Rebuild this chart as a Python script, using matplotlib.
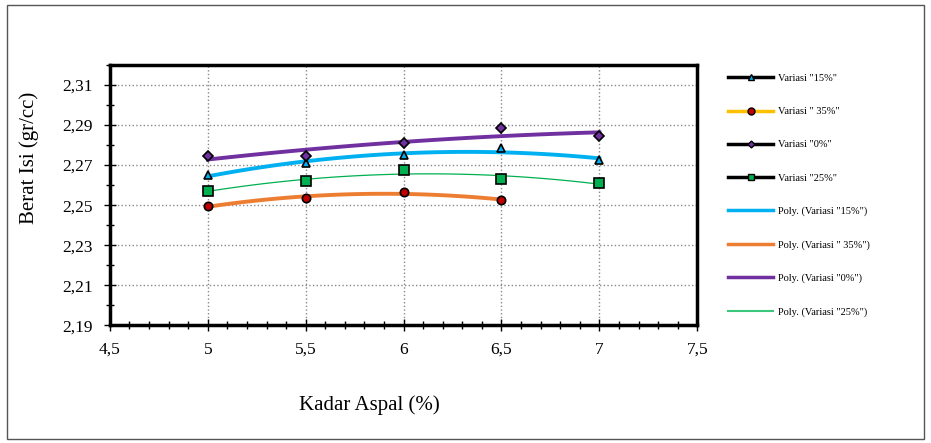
import numpy as np
import matplotlib.pyplot as plt
from matplotlib.lines import Line2D
from matplotlib.patches import Rectangle
from matplotlib.ticker import MultipleLocator, FuncFormatter

plt.rcParams['font.family'] = ['Liberation Serif', 'DejaVu Serif']

# data
kadar = [5, 5.5, 6, 6.5, 7]
var15 = [2.265, 2.271, 2.275, 2.2785, 2.2725]
kadar35 = [5, 5.5, 6, 6.5]
var35 = [2.2495, 2.2535, 2.2565, 2.2525]
var0 = [2.2745, 2.2745, 2.281, 2.2885, 2.2845]
var25 = [2.257, 2.262, 2.2675, 2.263, 2.261]

fig = plt.figure(figsize=(9.31, 4.43), dpi=100)
fig.patches.append(Rectangle((0.008, 0.008), 0.985, 0.98, transform=fig.transFigure,
                             fill=False, edgecolor='#555555', linewidth=1))
ax = fig.add_axes([0.118, 0.266, 0.631, 0.587])

def trend(x, y, color, lw):
    c = np.polyfit(x, y, 2)
    xs = np.linspace(min(x), max(x), 100)
    ax.plot(xs, np.polyval(c, xs), color=color, linewidth=lw, zorder=3)

trend(kadar, var0, '#7030A0', 2.8)
trend(kadar, var15, '#00B0F0', 2.8)
trend(kadar, var25, '#00B050', 0.9)
trend(kadar35, var35, '#ED7D31', 2.8)

ax.plot(kadar, var15, '^', color='#00B0F0', mec='black', mew=1.2, ms=6, zorder=4)
ax.plot(kadar35, var35, 'o', color='#C00000', mec='black', mew=1.2, ms=6, zorder=4)
ax.plot(kadar, var0, 'D', color='#7030A0', mec='black', mew=1.2, ms=5, zorder=4)
ax.plot(kadar, var25, 's', color='#00B050', mec='black', mew=1.2, ms=7, zorder=4)

ax.set_xlim(4.5, 7.5)
ax.set_ylim(2.19, 2.32)
ax.xaxis.set_major_locator(MultipleLocator(0.5))
ax.xaxis.set_minor_locator(MultipleLocator(0.1))
ax.yaxis.set_minor_locator(MultipleLocator(0.01))
ax.set_yticks(np.arange(2.19, 2.315, 0.02))
ax.xaxis.set_major_formatter(FuncFormatter(lambda v, p: ('%g' % round(v, 1)).replace('.', ',')))
ax.yaxis.set_major_formatter(FuncFormatter(lambda v, p: ('%.2f' % v).replace('.', ',')))
ax.tick_params(which='both', direction='inout', width=1, labelsize=12.5)
ax.tick_params(which='major', length=8, pad=8)
ax.tick_params(which='minor', length=6)
ax.grid(True, which='major', color='#888888', linestyle=':', linewidth=1)
for s in ax.spines.values():
    s.set_linewidth(2.5)

ax.set_xlabel('Kadar Aspal (%)', fontsize=15)
ax.xaxis.set_label_coords(0.441, -0.27)
ax.set_ylabel('Berat Isi (gr/cc)', fontsize=15)
ax.yaxis.set_label_coords(-0.121, 0.645)

handles = [
    Line2D([], [], color='black', lw=2.5, marker='^', mfc='#00B0F0', mec='black', ms=5),
    Line2D([], [], color='#FFC000', lw=2.5, marker='o', mfc='#C00000', mec='black', ms=5),
    Line2D([], [], color='black', lw=2.5, marker='D', mfc='#7030A0', mec='black', ms=3.5),
    Line2D([], [], color='black', lw=2.5, marker='s', mfc='#00B050', mec='black', ms=5),
    Line2D([], [], color='#00B0F0', lw=2.5),
    Line2D([], [], color='#ED7D31', lw=2.5),
    Line2D([], [], color='#7030A0', lw=2.5),
    Line2D([], [], color='#3CC87A', lw=1.5),
]
labels = ['Variasi "15%"', 'Variasi " 35%"', 'Variasi "0%"', 'Variasi "25%"',
          'Poly. (Variasi "15%")', 'Poly. (Variasi " 35%")',
          'Poly. (Variasi "0%")', 'Poly. (Variasi "25%")']
fig.legend(handles, labels, loc='upper left', bbox_to_anchor=(0.772, 0.855),
           frameon=False, fontsize=7.5, handlelength=4.3, labelspacing=2.3,
           handletextpad=0.5)

fig.savefig('out.png', dpi=100)
